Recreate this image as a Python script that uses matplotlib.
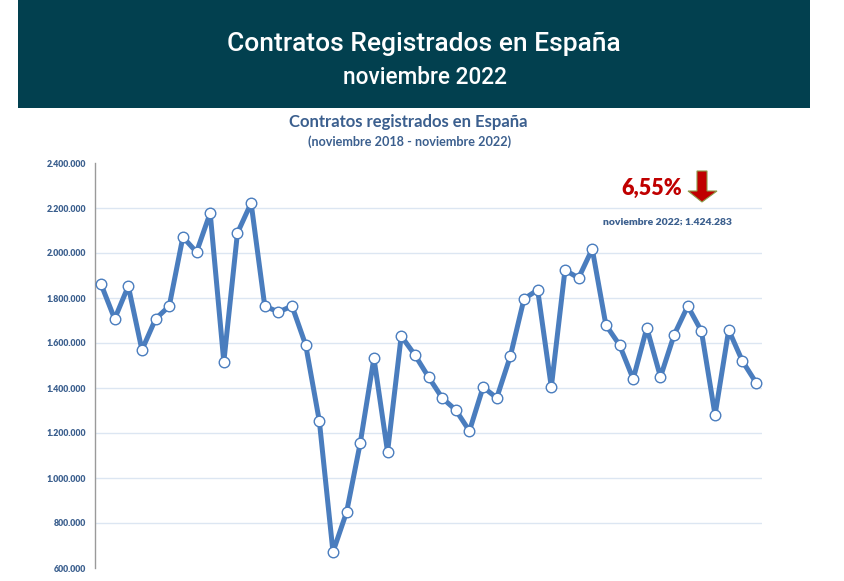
import matplotlib
matplotlib.use("Agg")
import matplotlib.pyplot as plt
from matplotlib.patches import Rectangle, Polygon

# ---- data ----
months = list(range(49))  # nov 2018 .. nov 2022
contratos = [1862000, 1707000, 1853000, 1569000, 1707000, 1764000, 2071000, 2004000,
             2178000, 1516000, 2089000, 2222000, 1764000, 1738000, 1764000, 1591000,
             1253000, 671000, 849000, 1156000, 1533000, 1116000, 1631000, 1547000,
             1449000, 1356000, 1302000, 1209000, 1404000, 1356000, 1542000, 1796000,
             1836000, 1404000, 1924000, 1889000, 2018000, 1680000, 1591000, 1440000,
             1667000, 1449000, 1636000, 1764000, 1653000, 1280000, 1658000, 1520000,
             1424283]
yticks = [600000, 800000, 1000000, 1200000, 1400000, 1600000, 1800000, 2000000, 2200000, 2400000]
ytick_labels = ["600.000", "800.000", "1.000.000", "1.200.000", "1.400.000", "1.600.000",
                "1.800.000", "2.000.000", "2.200.000", "2.400.000"]
header_title = "Contratos Registrados en España"
header_sub = "noviembre 2022"
chart_title = "Contratos registrados en España"
chart_sub = "(noviembre 2018 - noviembre 2022)"
pct_label = "6,55%"
last_label = "noviembre 2022; 1.424.283"

W, H = 845, 581
fig = plt.figure(figsize=(W / 100, H / 100), dpi=100)
fig.patch.set_facecolor("white")

def fx(px):
    return px / W

def fy(py):
    return 1 - py / H

# header banner
fig.patches.append(Rectangle((fx(18), fy(108)), fx(810) - fx(18), fy(0) - fy(108),
                             transform=fig.transFigure, facecolor="#02404F",
                             edgecolor="none", zorder=0))
fig.text(fx(424), fy(44), header_title, color="white", fontsize=19,
         family="Roboto", weight="medium", ha="center", va="center")
fig.text(fx(425), fy(78), header_sub, color="white", fontsize=16.3,
         family="Roboto", weight="medium", ha="center", va="center")

title_color = "#3B5F8E"
fig.text(fx(408), fy(122), chart_title, color=title_color, fontsize=12,
         family="Lato", weight="bold", ha="center", va="center")
fig.text(fx(410), fy(142), chart_sub, color=title_color, fontsize=9.1,
         family="Lato", weight="bold", ha="center", va="center")

# axes
ax = fig.add_axes([fx(95), fy(568), fx(762) - fx(95), fy(163) - fy(568)])
ax.set_facecolor("none")
ax.set_xlim(-0.44, 48.44)
ax.set_ylim(600000, 2400000)
ax.set_yticks(yticks)
ax.set_yticklabels(ytick_labels, color=title_color, fontsize=6.3, family="Lato",
                   weight="heavy")
ax.tick_params(axis="y", length=0, pad=6.5)
ax.set_xticks([])
for s in ["top", "right", "bottom"]:
    ax.spines[s].set_visible(False)
ax.spines["left"].set_color("#9A9A9A")
ax.spines["left"].set_linewidth(1.0)
for v in yticks[1:-1]:
    ax.axhline(v, color="#DCE6F2", linewidth=1.0, zorder=0)

ax.plot(months, contratos, color="#4A7DBE", linewidth=3.6, marker="o",
        markersize=7.6, markerfacecolor="white", markeredgecolor="#4A7DBE",
        markeredgewidth=1.0, zorder=3, solid_joinstyle="round")

# annotations
fig.text(fx(652), fy(188), pct_label, color="#C00000", fontsize=15.5,
         family="Lato", weight="heavy", ha="center", va="center")
arrow_px = [(697, 171), (707, 171), (707, 191), (717, 191), (702, 202), (688, 191), (697, 191)]
fig.patches.append(Polygon([(fx(x), fy(y)) for x, y in arrow_px], closed=True,
                           transform=fig.transFigure, facecolor="#C00000",
                           edgecolor="#8C9A4A", linewidth=0.8, zorder=5))
fig.text(fx(667), fy(222), last_label, color=title_color, fontsize=7.5,
         family="Lato", weight="heavy", ha="center", va="center")

fig.savefig("out.png", dpi=100)
